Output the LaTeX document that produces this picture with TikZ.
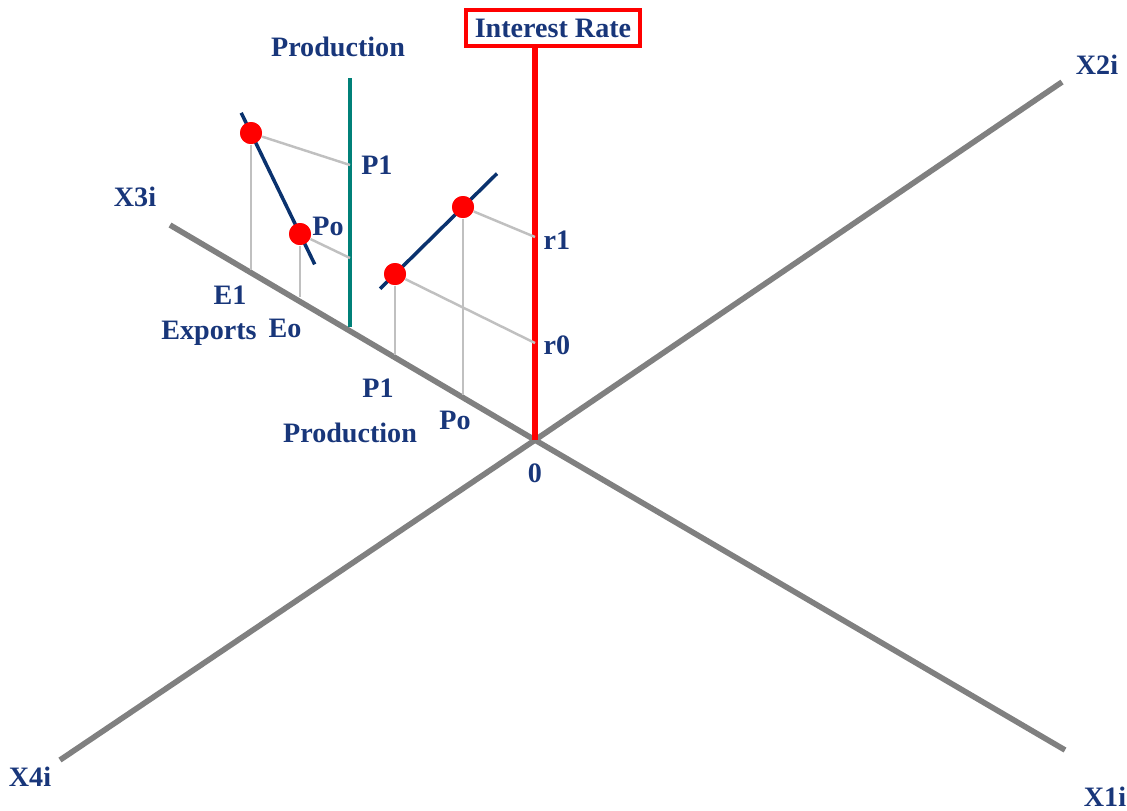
\documentclass[tikz,border=0pt]{standalone}
\usepackage{fontspec}
\setmainfont{Liberation Serif}
\usepackage{xcolor}
\usepackage{tikz}
\usetikzlibrary{positioning,calc}

\definecolor{labelblue}{RGB}{24,54,122}
\definecolor{curveblue}{RGB}{10,50,110}
\definecolor{axisgray}{RGB}{128,128,128}
\definecolor{guidegray}{RGB}{192,192,192}
\definecolor{prodteal}{RGB}{0,128,120}

\begin{document}
\begin{tikzpicture}[
    every node/.style={font=\bfseries\fontsize{8}{9}\selectfont, text=labelblue, inner sep=1pt},
    axis/.style={axisgray, line width=1.6pt},
    rateaxis/.style={red, line width=1.8pt},
    prodaxis/.style={prodteal, line width=0.9pt},
    curve/.style={curveblue, line width=1pt},
    guide/.style={guidegray, line width=0.7pt},
    eq/.style={circle, fill=red, inner sep=0pt, minimum size=2.2mm},
    ratebox/.style={draw=red, line width=1.1pt, fill=white, inner sep=2.5pt},
]
\useasboundingbox (0,0) rectangle (11.27,-8.10);

% Axes through the origin
\coordinate (O) at (5.35,-4.40);
\coordinate (x3) at (1.70,-2.25);
\coordinate (x1) at (10.65,-7.50);
\coordinate (x2) at (10.62,-0.82);
\coordinate (x4) at (0.60,-7.60);
\draw[axis] (x3) -- (O) -- (x1);
\draw[axis] (x4) -- (O) -- (x2);

\node (x3lab) at (1.35,-1.97) {X3i};
\node (x2lab) at (10.97,-0.65) {X2i};
\node (x4lab) at (0.30,-7.77) {X4i};
\node (x1lab) at (11.05,-7.97) {X1i};
\node (olab) at (5.35,-4.73) {0};

% Interest rate axis
\node[ratebox] (rate) at (5.53,-0.28) {Interest Rate};
\draw[rateaxis] (O) -- (O |- rate.south);

% Production axis in the exports plane
\coordinate (pbase) at (3.50,-3.27);
\coordinate (ptop) at (3.50,-0.78);
\draw[prodaxis] (pbase) -- (ptop);
\node (prodtop) at (3.38,-0.47) {Production};

% Export demand curve
\node[eq] (a) at (2.51,-1.33) {};
\node[eq] (b) at (3.00,-2.34) {};
\coordinate (p1) at (3.50,-1.65);
\coordinate (p0) at (3.50,-2.58);
\coordinate (e1) at (2.48,-2.70);
\coordinate (e0) at (2.94,-2.97);
\draw[guide] (a) -- (a |- e1);
\draw[guide] (b) -- (b |- e0);
\draw[guide] (a) -- (p1);
\draw[guide] (b) -- (p0);
\draw[curve] ($(a)!-0.2!(b)$) -- ($(b)!-0.3!(a)$);
\node[eq] at (a) {};
\node[eq] at (b) {};

\node[right=2pt of p1] (p1lab) {P1};
\node (p0lab) at (3.28,-2.26) {Po};
\node (e1lab) at (2.30,-2.95) {E1};
\node (exlab) at (2.09,-3.33) {Exports};
\node (e0lab) at (2.85,-3.28) {Eo};

% Supply curve against the interest rate
\node[eq] (c) at (3.95,-2.74) {};
\node[eq] (d) at (4.63,-2.07) {};
\coordinate (r1) at (5.35,-2.37);
\coordinate (r0) at (5.35,-3.43);
\coordinate (q1) at (3.95,-3.55);
\coordinate (q0) at (4.63,-3.95);
\draw[guide] (d) -- (r1);
\draw[guide] (c) -- (r0);
\draw[guide] (c) -- (q1);
\draw[guide] (d) -- (q0);
\draw[curve] ($(c)!-0.22!(d)$) -- ($(d)!-0.5!(c)$);
\node[eq] at (c) {};
\node[eq] at (d) {};

\node (r1lab) at (5.57,-2.40) {r1};
\node (r0lab) at (5.57,-3.45) {r0};
\node (q1lab) at (3.78,-3.88) {P1};
\node (q0lab) at (4.55,-4.20) {Po};
\node (prodbot) at (3.50,-4.33) {Production};

\end{tikzpicture}
\end{document}
